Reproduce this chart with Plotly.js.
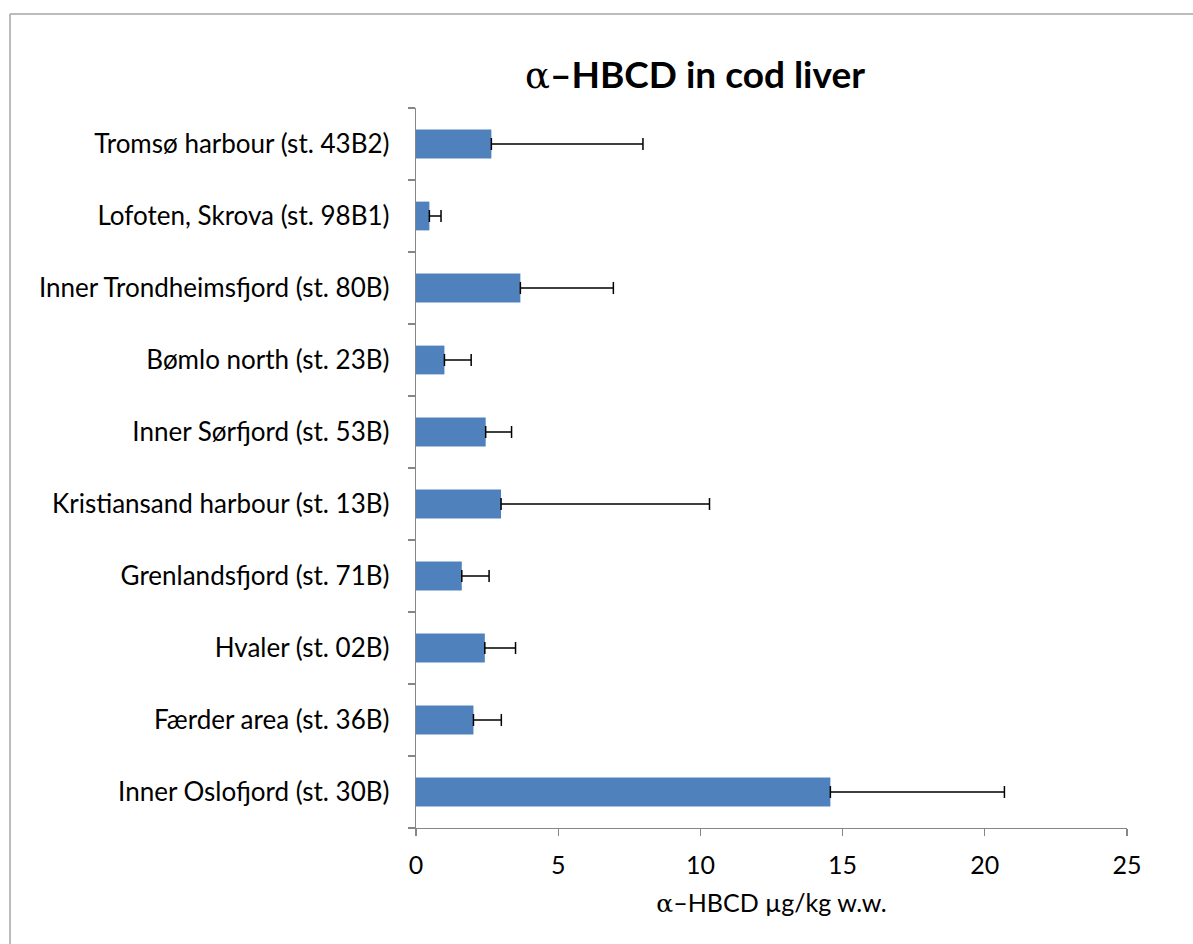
<!DOCTYPE html>
<html>
<head>
<meta charset="utf-8">
<script src="https://cdn.plot.ly/plotly-3.0.1.min.js"></script>
<style>html,body{margin:0;padding:0;background:#fff;}</style>
</head>
<body>
<div id="chart" style="width:1193px;height:944px;"></div>
<script>
// Stations, bottom to top as drawn
const stations = [
  "Inner Oslofjord (st. 30B)",
  "Færder area (st. 36B)",
  "Hvaler (st. 02B)",
  "Grenlandsfjord (st. 71B)",
  "Kristiansand harbour (st. 13B)",
  "Inner Sørfjord (st. 53B)",
  "Bømlo north (st. 23B)",
  "Inner Trondheimsfjord (st. 80B)",
  "Lofoten, Skrova (st. 98B1)",
  "Tromsø harbour (st. 43B2)"
];
const meanValues = [14.57, 2.02, 2.42, 1.61, 2.99, 2.45, 1.00, 3.67, 0.47, 2.65];
const errorPlus  = [6.12, 0.98, 1.08, 0.96, 7.33, 0.91, 0.94, 3.27, 0.41, 5.33];
const xTickVals = [0, 5, 10, 15, 20, 25];

const FONT = "Lato, 'Open Sans', sans-serif";
const L = 416, R = 66, T = 108, B = 116, W = 1193, H = 944;
const pw = W - L - R, ph = H - T - B;
const px = v => (v - L) / pw;
const py = v => (H - B - v) / ph;

const trace = {
  type: "bar",
  orientation: "h",
  x: meanValues,
  y: stations,
  marker: {color: "#4F81BD", line: {color: "#4F81BD", width: 0}},
  error_x: {type: "data", symmetric: false, array: errorPlus, arrayminus: meanValues.map(() => 0),
            color: "#000000", thickness: 1.5, width: 6},
  hoverinfo: "x+y"
};

const layout = {
  width: W, height: H,
  margin: {l: L, r: R, t: T, b: B, pad: 0},
  paper_bgcolor: "#ffffff",
  plot_bgcolor: "#ffffff",
  showlegend: false,
  bargap: 0.6,
  font: {family: FONT, size: 25, color: "#000000"},
  title: {
    text: '<span style="font-family:\'DejaVu Serif\';font-weight:normal">α</span>–HBCD in cod liver',
    font: {family: FONT, size: 37, color: "#000000", weight: "bold"},
    x: px(695), xref: "paper", xanchor: "center",
    y: 1 - 75 / H, yref: "container", yanchor: "middle"
  },
  xaxis: {
    range: [0, 25],
    tickvals: xTickVals,
    ticktext: xTickVals.map(String),
    showgrid: false, zeroline: false,
    showline: true, linecolor: "#868686", linewidth: 1.3,
    ticks: "outside", ticklen: 7, tickcolor: "#868686", tickwidth: 1.3,
    ticklabelstandoff: 8,
    tickfont: {family: FONT, size: 25, color: "#000000"},
    title: {text: '<span style="font-family:\'DejaVu Serif\'">α</span>–HBCD µg/kg w.w.',
            font: {family: FONT, size: 25, color: "#000000"}, standoff: 16},
    automargin: false,
    fixedrange: true
  },
  yaxis: {
    type: "category",
    categoryorder: "array",
    categoryarray: stations,
    range: [-0.5, stations.length - 0.5],
    showgrid: false, zeroline: false,
    showline: true, linecolor: "#868686", linewidth: 1.3,
    ticks: "outside", tickson: "boundaries", ticklen: 7, tickcolor: "#868686", tickwidth: 1.3,
    ticklabelstandoff: 20,
    tickfont: {family: FONT, size: 26, color: "#000000"},
    automargin: false,
    fixedrange: true
  },
  shapes: [
    {type: "line", xref: "paper", yref: "paper", x0: px(10), x1: px(1193), y0: py(14), y1: py(14),
     line: {color: "#a6a6a6", width: 1.5}},
    {type: "line", xref: "paper", yref: "paper", x0: px(10), x1: px(10), y0: py(14), y1: py(944),
     line: {color: "#a6a6a6", width: 1.5}}
  ]
};

Plotly.newPlot("chart", [trace], layout, {displayModeBar: false, staticPlot: true});
</script>
</body>
</html>
